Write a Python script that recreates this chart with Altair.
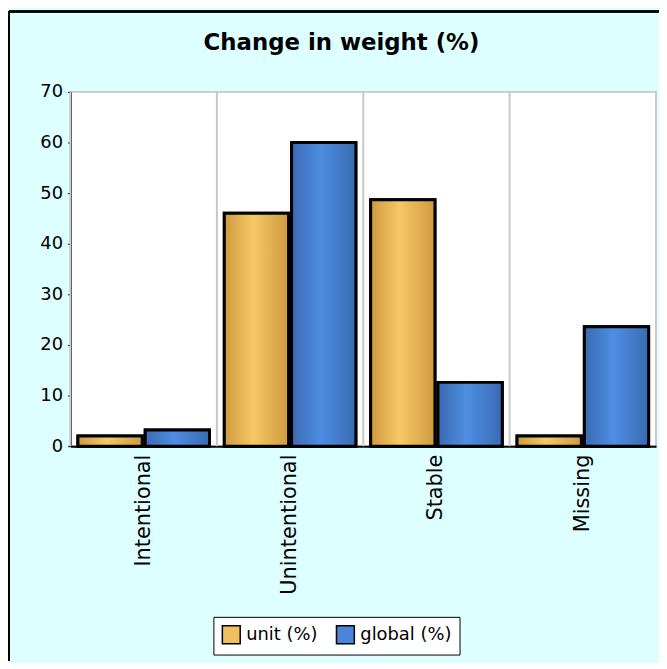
import altair as alt
import pandas as pd

categories = ["Intentional", "Unintentional", "Stable", "Missing"]
series = ["unit (%)", "global (%)"]
unit_values = [2.0, 46.0, 48.7, 2.0]
global_values = [3.2, 60.0, 12.6, 23.6]
y_ticks = [0, 10, 20, 30, 40, 50, 60, 70]

rows = []
for c, u, g in zip(categories, unit_values, global_values):
    rows.append({"category": c, "series": series[0], "value": u})
    rows.append({"category": c, "series": series[1], "value": g})
df = pd.DataFrame(rows)
grid_df = pd.DataFrame({"category": categories})

W, H = 590, 357
PL, PT, PR, PB = 63, 82, 3, 216

x_enc = alt.X(
    "category:N",
    sort=categories,
    scale=alt.Scale(paddingInner=0, paddingOuter=0),
    axis=alt.Axis(
        title=None, labelAngle=-90, labelFontSize=21, labelFont="DejaVu Sans",
        labelColor="black", ticks=False, labelPadding=8, domainColor="black",
        domainWidth=2, grid=False, labelAlign="right", labelBaseline="middle",
    ),
)
y_enc = alt.Y(
    "value:Q",
    scale=alt.Scale(domain=[0, 70], nice=False),
    axis=alt.Axis(
        title=None, values=y_ticks, labelFontSize=18, labelFont="DejaVu Sans",
        labelColor="black", tickColor="black", tickSize=3, labelPadding=5,
        domainColor="black", domainWidth=2, gridColor="#c8c8c8", gridWidth=2,
    ),
)
xo_enc = alt.XOffset(
    "series:N", sort=series,
    scale=alt.Scale(domain=series, paddingInner=0.045, paddingOuter=0.11),
)

grid_rules = alt.Chart(grid_df).mark_rule(color="#c8c8c8", strokeWidth=2).encode(
    x=alt.X("category:N", sort=categories, bandPosition=0),
    y=alt.datum(0),
    y2=alt.datum(70),
)

base = alt.Chart(df).mark_bar(stroke="black", strokeWidth=3).encode(
    x=x_enc,
    y=y_enc,
    xOffset=xo_enc,
    color=alt.Color(
        "series:N", sort=series,
        scale=alt.Scale(domain=series, range=["#f0c060", "#4a85d8"]),
        legend=alt.Legend(
            title=None, orient="none", legendX=144, legendY=529,
            direction="horizontal", fillColor="white", strokeColor="black",
            padding=8, labelFontSize=18, labelFont="DejaVu Sans",
            labelColor="black", symbolType="square", symbolSize=324,
            symbolStrokeColor="black", symbolStrokeWidth=1.5,
            labelOffset=5, columnPadding=16,
        ),
    ),
)

unit_grad = alt.Gradient(
    gradient="linear", x1=0, x2=1, y1=0, y2=0,
    stops=[
        alt.GradientStop(color="#cf9a40", offset=0),
        alt.GradientStop(color="#f5c865", offset=0.45),
        alt.GradientStop(color="#cf9a40", offset=1),
    ],
)
global_grad = alt.Gradient(
    gradient="linear", x1=0, x2=1, y1=0, y2=0,
    stops=[
        alt.GradientStop(color="#3a6ab2", offset=0),
        alt.GradientStop(color="#4e8ee2", offset=0.45),
        alt.GradientStop(color="#3a6ab2", offset=1),
    ],
)

unit_layer = alt.Chart(df).transform_filter(
    alt.datum.series == series[0]
).mark_bar(color=unit_grad, stroke="black", strokeWidth=3).encode(
    x=alt.X("category:N", sort=categories), y="value:Q", xOffset=xo_enc
)
global_layer = alt.Chart(df).transform_filter(
    alt.datum.series == series[1]
).mark_bar(color=global_grad, stroke="black", strokeWidth=3).encode(
    x=alt.X("category:N", sort=categories), y="value:Q", xOffset=xo_enc
)

frame_left = alt.Chart(grid_df).mark_rule(color="black", strokeWidth=2).encode(
    x=alt.value(-PL + 1), y=alt.value(-PT + 1), y2=alt.value(H + PB)
)
frame_top = alt.Chart(grid_df).mark_rule(color="black", strokeWidth=2).encode(
    x=alt.value(-PL + 1), x2=alt.value(W + PR), y=alt.value(-PT + 1)
)

chart = alt.layer(
    grid_rules, base, unit_layer, global_layer, frame_left, frame_top
).properties(
    width=W,
    height=H,
    title=alt.TitleParams(
        "Change in weight (%)", fontSize=23, font="DejaVu Sans",
        fontWeight="bold", color="black", anchor="middle", dx=-22,
        offset=0, dy=63, frame="group", baseline="alphabetic",
    ),
    autosize=alt.AutoSizeParams(type="none"),
    padding={"left": PL, "top": PT, "right": PR, "bottom": PB},
    background="#ddffff",
).configure_view(
    fill="white", stroke="#c8c8c8", strokeWidth=2
)

chart.save("out.html", embed_options={"renderer": "svg", "actions": False})
